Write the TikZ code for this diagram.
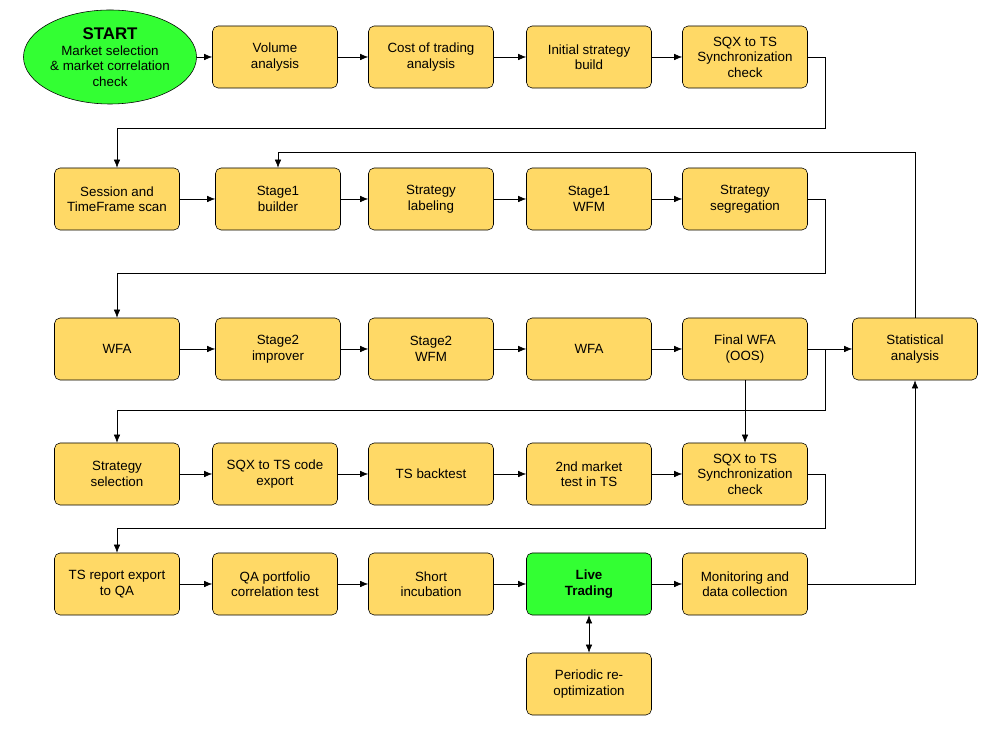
\documentclass[tikz,border=0pt]{standalone}
\usepackage{fontspec}
\setmainfont{Liberation Sans}
\usetikzlibrary{arrows.meta, shapes.geometric}
\definecolor{boxfill}{HTML}{FFD966}
\definecolor{livegreen}{HTML}{33FF33}

\begin{document}
\begin{tikzpicture}[x=0.025cm, y=-0.025cm,
    stagebox/.style={rectangle, rounded corners=4pt, draw, fill=boxfill, minimum width=3.125cm, minimum height=1.55cm, align=center, font=\fontsize{9.5}{11}\selectfont},
    flow/.style={-{Latex[length=2mm, width=1.6mm]}}]
    \useasboundingbox (0,0) rectangle (996,740);

    % Row 1
    \node[ellipse, draw, fill=livegreen, minimum width=3.5cm, minimum height=2.35cm, align=center, font=\fontsize{9.5}{11}\selectfont, inner sep=1pt] (START) at (110,57) {\textbf{\large START}\\Market selection\\\& market correlation\\check};
    \node[stagebox] (VOL) at (275,57) {Volume\\analysis};
    \node[stagebox] (COST) at (431,57) {Cost of trading\\analysis};
    \node[stagebox] (INIT) at (589,57) {Initial strategy\\build};
    \node[stagebox] (SYNC1) at (745,57) {SQX to TS\\Synchronization\\check};

    % Row 2
    \node[stagebox] (SESS) at (117,199) {Session and\\TimeFrame scan};
    \node[stagebox] (S1B) at (278,199) {Stage1\\builder};
    \node[stagebox] (LABEL) at (431,199) {Strategy\\labeling};
    \node[stagebox] (S1W) at (589,199) {Stage1\\WFM};
    \node[stagebox] (SEGR) at (745,199) {Strategy\\segregation};

    % Row 3
    \node[stagebox] (WFA1) at (117,349) {WFA};
    \node[stagebox] (S2I) at (278,349) {Stage2\\improver};
    \node[stagebox] (S2W) at (431,349) {Stage2\\WFM};
    \node[stagebox] (WFA2) at (589,349) {WFA};
    \node[stagebox] (FINAL) at (745,349) {Final WFA\\(OOS)};
    \node[stagebox] (STAT) at (915,349) {Statistical\\analysis};

    % Row 4
    \node[stagebox] (SEL) at (117,474) {Strategy\\selection};
    \node[stagebox] (EXP) at (275,474) {SQX to TS code\\export};
    \node[stagebox] (BT) at (431,474) {TS backtest};
    \node[stagebox] (MKT2) at (589,474) {2nd market\\test in TS};
    \node[stagebox] (SYNC2) at (745,474) {SQX to TS\\Synchronization\\check};

    % Row 5
    \node[stagebox] (REP) at (117,584) {TS report export\\to QA};
    \node[stagebox] (QA) at (275,584) {QA portfolio\\correlation test};
    \node[stagebox] (INC) at (431,584) {Short\\incubation};
    \node[stagebox, fill=livegreen] (LIVE) at (589,584) {\textbf{Live}\\\textbf{Trading}};
    \node[stagebox] (MON) at (745,584) {Monitoring and\\data collection};
    \node[stagebox] (REOPT) at (589,684) {Periodic re-\\optimization};

    % Bends
    \coordinate (W1) at (825,128);
    \coordinate (W2) at (825,273);
    \coordinate (W3) at (825,410);
    \coordinate (W4) at (825,528);
    \coordinate (FB) at (915,152);

    % Connections
    \draw[flow] (START) -- (VOL);
    \draw[flow] (VOL) -- (COST);
    \draw[flow] (COST) -- (INIT);
    \draw[flow] (INIT) -- (SYNC1);
    \draw[flow] (SYNC1.east) -| (W1) -| (SESS.north);

    \draw[flow] (SESS) -- (S1B);
    \draw[flow] (S1B) -- (LABEL);
    \draw[flow] (LABEL) -- (S1W);
    \draw[flow] (S1W) -- (SEGR);
    \draw[flow] (SEGR.east) -| (W2) -| (WFA1.north);

    \draw[flow] (WFA1) -- (S2I);
    \draw[flow] (S2I) -- (S2W);
    \draw[flow] (S2W) -- (WFA2);
    \draw[flow] (WFA2) -- (FINAL);
    \draw[flow] (FINAL) -- (STAT);
    \draw[flow] (FINAL.east) -| (W3) -| (SEL.north);
    \draw[flow] (FINAL) -- (SYNC2);

    \draw[flow] (SEL) -- (EXP);
    \draw[flow] (EXP) -- (BT);
    \draw[flow] (BT) -- (MKT2);
    \draw[flow] (MKT2) -- (SYNC2);
    \draw[flow] (SYNC2.east) -| (W4) -| (REP.north);

    \draw[flow] (REP) -- (QA);
    \draw[flow] (QA) -- (INC);
    \draw[flow] (INC) -- (LIVE);
    \draw[flow] (LIVE) -- (MON);
    \draw[{Latex[length=2mm, width=1.6mm]}-{Latex[length=2mm, width=1.6mm]}] (LIVE) -- (REOPT);
    \draw[flow] (MON.east) -| (STAT.south);
    \draw[flow] (STAT.north) |- (FB) -| (S1B.north);
\end{tikzpicture}
\end{document}
